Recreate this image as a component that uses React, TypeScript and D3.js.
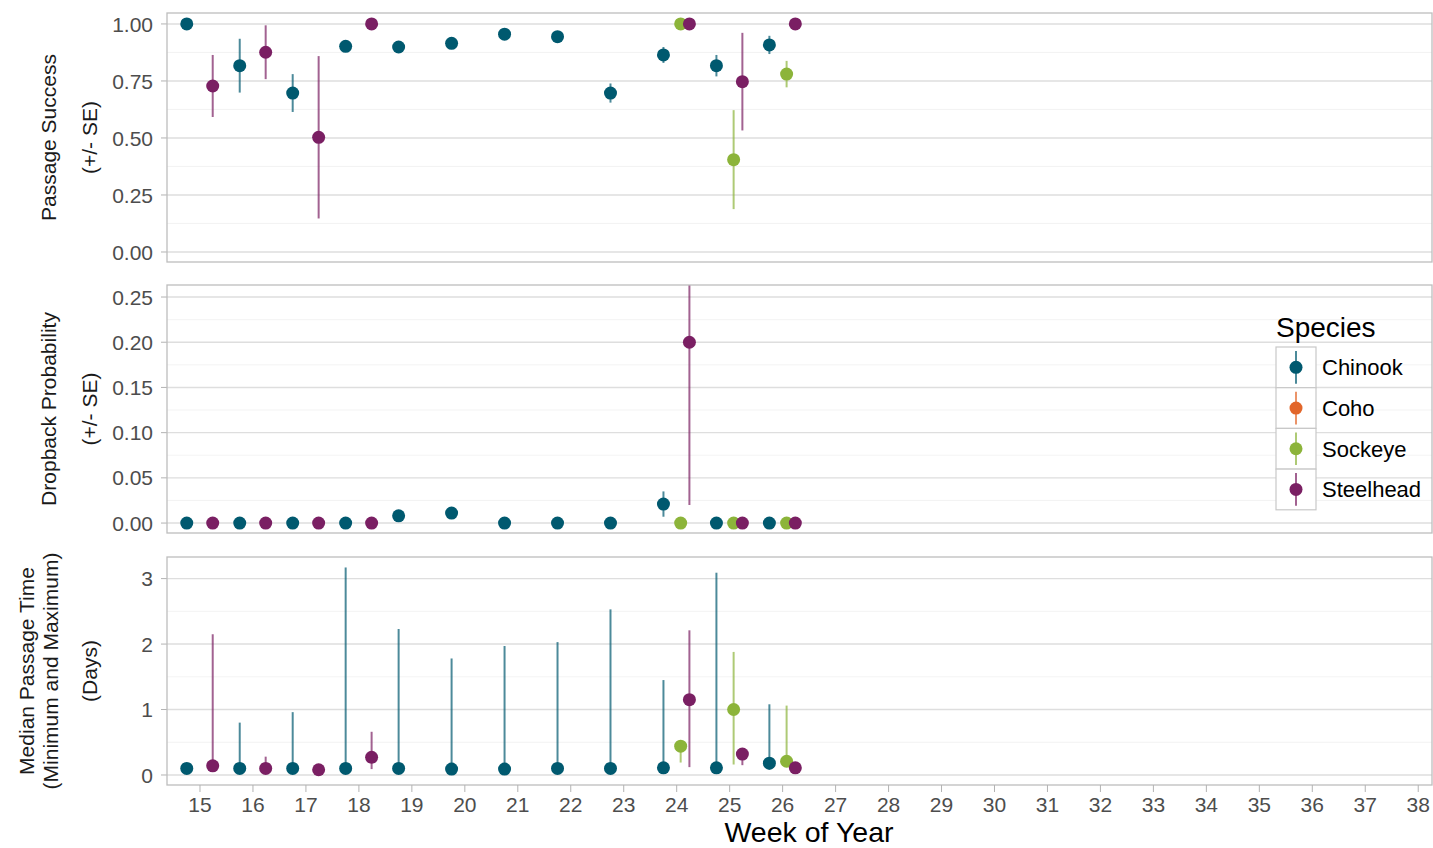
import React from "react";
import * as d3 from "d3";

// ---------- DATA ----------
const weekTicks = [15, 16, 17, 18, 19, 20, 21, 22, 23, 24, 25, 26, 27, 28, 29, 30, 31, 32, 33, 34, 35, 36, 37, 38];
const speciesNames = ["Chinook", "Coho", "Sockeye", "Steelhead"];
const speciesColors = ["#00596F", "#E2662A", "#8CB43A", "#7A1F63"];

// Chinook
const chinookWeeks = [15, 16, 17, 18, 19, 20, 21, 22, 23, 24, 25, 26];
const chinookSuccess = [1.0, 0.817, 0.697, 0.902, 0.899, 0.915, 0.955, 0.944, 0.697, 0.864, 0.817, 0.908];
const chinookSuccessSE = [0, 0.118, 0.083, 0, 0, 0, 0, 0, 0.042, 0.035, 0.047, 0.04];
const chinookDropback = [0, 0, 0, 0, 0.008, 0.011, 0, 0, 0, 0.021, 0, 0];
const chinookDropbackSE = [0, 0, 0, 0, 0, 0, 0, 0, 0, 0.014, 0, 0];
const chinookMedian = [0.1, 0.1, 0.1, 0.1, 0.1, 0.09, 0.09, 0.1, 0.1, 0.11, 0.11, 0.18];
const chinookMin = [0.06, 0.06, 0.06, 0.06, 0.06, 0.06, 0.06, 0.06, 0.06, 0.06, 0.06, 0.08];
const chinookMax = [0.15, 0.8, 0.96, 3.17, 2.23, 1.78, 1.97, 2.03, 2.53, 1.45, 3.09, 1.08];

// Sockeye
const sockeyeWeeks = [24, 25, 26];
const sockeyeSuccess = [1.0, 0.405, 0.78];
const sockeyeSuccessSE = [0, 0.217, 0.058];
const sockeyeDropback = [0, 0, 0];
const sockeyeDropbackSE = [0, 0, 0];
const sockeyeMedian = [0.44, 1.0, 0.21];
const sockeyeMin = [0.19, 0.16, 0.15];
const sockeyeMax = [0.45, 1.88, 1.06];

// Steelhead
const steelheadWeeks = [15, 16, 17, 18, 24, 25, 26];
const steelheadSuccess = [0.728, 0.876, 0.503, 1.0, 1.0, 0.747, 1.0];
const steelheadSuccessSE = [0.136, 0.118, 0.356, 0, 0, 0.214, 0];
const steelheadDropback = [0, 0, 0, 0, 0.2, 0, 0];
const steelheadDropbackSE = [0, 0, 0, 0, 0.18, 0, 0];
const steelheadMedian = [0.14, 0.1, 0.08, 0.27, 1.15, 0.32, 0.11];
const steelheadMin = [0.08, 0.06, 0.08, 0.09, 0.12, 0.15, 0.11];
const steelheadMax = [2.15, 0.28, 0.08, 0.66, 2.21, 0.38, 0.11];

const successTicks = [0, 0.25, 0.5, 0.75, 1.0];
const dropbackTicks = [0, 0.05, 0.1, 0.15, 0.2, 0.25];
const timeTicks = [0, 1, 2, 3];

// dodge offsets for species (Chinook, Coho, Sockeye, Steelhead)
const dodge = [-0.25, -0.083, 0.075, 0.24];

type Pt = { week: number; y: number; lo: number; hi: number; sp: number };

function buildSE(weeks: number[], v: number[], se: number[], sp: number): Pt[] {
  return weeks.map((w, i) => ({ week: w, y: v[i], lo: v[i] - se[i], hi: v[i] + se[i], sp }));
}
function buildRange(weeks: number[], v: number[], lo: number[], hi: number[], sp: number): Pt[] {
  return weeks.map((w, i) => ({ week: w, y: v[i], lo: lo[i], hi: hi[i], sp }));
}

const successData = [
  ...buildSE(chinookWeeks, chinookSuccess, chinookSuccessSE, 0),
  ...buildSE(sockeyeWeeks, sockeyeSuccess, sockeyeSuccessSE, 2),
  ...buildSE(steelheadWeeks, steelheadSuccess, steelheadSuccessSE, 3),
];
const dropbackData = [
  ...buildSE(chinookWeeks, chinookDropback, chinookDropbackSE, 0),
  ...buildSE(sockeyeWeeks, sockeyeDropback, sockeyeDropbackSE, 2),
  ...buildSE(steelheadWeeks, steelheadDropback, steelheadDropbackSE, 3),
];
const timeData = [
  ...buildRange(chinookWeeks, chinookMedian, chinookMin, chinookMax, 0),
  ...buildRange(sockeyeWeeks, sockeyeMedian, sockeyeMin, sockeyeMax, 2),
  ...buildRange(steelheadWeeks, steelheadMedian, steelheadMin, steelheadMax, 3),
];

// ---------- LAYOUT ----------
const W = 1433;
const H = 848;
const left = 167;
const right = 1432;
const font = "'Liberation Sans', Arial, sans-serif";
const tickColor = "#4D4D4D";

const x = d3.scaleLinear().domain([14.377, 38.26]).range([left, right]);

type PanelDef = {
  top: number;
  bottom: number;
  domain: [number, number];
  ticks: number[];
  minor: number[];
  fmt: (v: number) => string;
  data: Pt[];
  titles: { text: string; x: number }[];
};

const panels: PanelDef[] = [
  {
    top: 13,
    bottom: 262,
    domain: [-0.0439, 1.048],
    ticks: successTicks,
    minor: [0.125, 0.375, 0.625, 0.875],
    fmt: d3.format(".2f"),
    data: successData,
    titles: [
      { text: "Passage Success", x: 48.5 },
      { text: "(+/- SE)", x: 89.5 },
    ],
  },
  {
    top: 285,
    bottom: 533,
    domain: [-0.011, 0.2633],
    ticks: dropbackTicks,
    minor: [0.025, 0.075, 0.125, 0.175, 0.225],
    fmt: d3.format(".2f"),
    data: dropbackData,
    titles: [
      { text: "Dropback Probability", x: 48.5 },
      { text: "(+/- SE)", x: 89.5 },
    ],
  },
  {
    top: 557,
    bottom: 785,
    domain: [-0.153, 3.33],
    ticks: timeTicks,
    minor: [0.5, 1.5, 2.5],
    fmt: d3.format("d"),
    data: timeData,
    titles: [
      { text: "Median Passage Time", x: 26.5 },
      { text: "(Minimum and Maximum)", x: 50 },
      { text: "(Days)", x: 89.5 },
    ],
  },
];

function Panel({ p, idx }: { p: PanelDef; idx: number }) {
  const y = d3.scaleLinear().domain(p.domain).range([p.bottom, p.top]);
  const clipId = `clip${idx}`;
  const cy = (p.top + p.bottom) / 2;
  return (
    <g>
      <defs>
        <clipPath id={clipId}>
          <rect x={left} y={p.top} width={right - left} height={p.bottom - p.top} />
        </clipPath>
      </defs>
      {p.minor.map((t) => (
        <line key={"m" + t} x1={left} x2={right} y1={y(t)} y2={y(t)} stroke="#F0F0F0" strokeWidth={0.8} />
      ))}
      {p.ticks.map((t) => (
        <line key={"g" + t} x1={left} x2={right} y1={y(t)} y2={y(t)} stroke="#DEDEDE" strokeWidth={1.4} />
      ))}
      {p.ticks.map((t) => (
        <g key={"t" + t}>
          <line x1={left - 6} x2={left} y1={y(t)} y2={y(t)} stroke="#B3B3B3" strokeWidth={1} />
          <text
            x={left - 14}
            y={y(t)}
            dy="0.36em"
            textAnchor="end"
            fontFamily={font}
            fontSize={21}
            fill={tickColor}
          >
            {p.fmt(t)}
          </text>
        </g>
      ))}
      <g clipPath={`url(#${clipId})`}>
        {p.data.map((d, i) =>
          d.hi - d.lo > 0.0001 ? (
            <line
              key={"e" + i}
              x1={x(d.week + dodge[d.sp])}
              x2={x(d.week + dodge[d.sp])}
              y1={y(d.lo)}
              y2={y(d.hi)}
              stroke={speciesColors[d.sp]}
              strokeOpacity={0.7}
              strokeWidth={2}
            />
          ) : null
        )}
        {p.data.map((d, i) => (
          <circle
            key={"c" + i}
            cx={x(d.week + dodge[d.sp])}
            cy={y(d.y)}
            r={6.5}
            fill={speciesColors[d.sp]}
          />
        ))}
      </g>
      <rect
        x={left}
        y={p.top}
        width={right - left}
        height={p.bottom - p.top}
        fill="none"
        stroke="#BDBDBD"
        strokeWidth={1.3}
      />
      {p.titles.map((t) => (
        <text
          key={t.text}
          transform={`translate(${t.x},${cy}) rotate(-90)`}
          textAnchor="middle"
          dy="0.36em"
          fontFamily={font}
          fontSize={21}
          fill="#1A1A1A"
        >
          {t.text}
        </text>
      ))}
    </g>
  );
}

export default function App() {
  const axisY = panels[2].bottom;
  const legendX = 1276;
  const legendKeyTop = 347;
  const keyH = 40.7;
  return (
    <svg
      width={W}
      height={H}
      style={{ position: "absolute", left: 0, top: 0, background: "#fff" }}
    >
      <rect x={0} y={0} width={W} height={H} fill="#fff" />
      {panels.map((p, i) => (
        <Panel key={i} p={p} idx={i} />
      ))}
      {weekTicks.map((w) => (
        <g key={w}>
          <line x1={x(w)} x2={x(w)} y1={axisY} y2={axisY + 7} stroke="#B3B3B3" strokeWidth={1} />
          <text
            x={x(w)}
            y={axisY + 27}
            textAnchor="middle"
            fontFamily={font}
            fontSize={21}
            fill={tickColor}
          >
            {w}
          </text>
        </g>
      ))}
      <text
        x={809}
        y={842}
        textAnchor="middle"
        fontFamily={font}
        fontSize={28.5}
        fill="#000"
      >
        Week of Year
      </text>
      {/* legend */}
      <text x={legendX} y={337} fontFamily={font} fontSize={28} fill="#000">
        Species
      </text>
      {speciesNames.map((s, i) => {
        const ky = legendKeyTop + i * keyH;
        const cx = legendX + 20;
        return (
          <g key={s}>
            <rect x={legendX} y={ky} width={40} height={keyH} fill="#fff" stroke="#C8C8C8" strokeWidth={1.2} />
            <line
              x1={cx}
              x2={cx}
              y1={ky + 4}
              y2={ky + keyH - 4}
              stroke={speciesColors[i]}
              strokeOpacity={0.7}
              strokeWidth={2}
            />
            <circle cx={cx} cy={ky + keyH / 2} r={6.5} fill={speciesColors[i]} />
            <text
              x={legendX + 46}
              y={ky + keyH / 2}
              dy="0.36em"
              fontFamily={font}
              fontSize={22}
              fill="#000"
            >
              {s}
            </text>
          </g>
        );
      })}
    </svg>
  );
}
